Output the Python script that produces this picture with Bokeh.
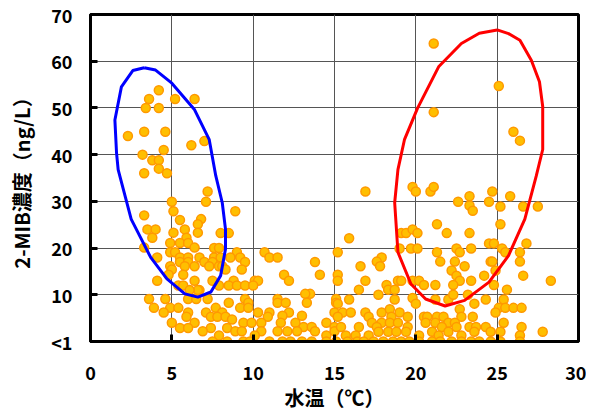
from bokeh.plotting import figure
from bokeh.models import Range1d, FixedTicker
from bokeh.embed import file_html
from bokeh.resources import INLINE

# ---- data: (water temperature [deg C], 2-MIB [ng/L]; 0 = "<1") ----
left_temp = [4.2, 3.6, 5.2, 6.4, 3.4, 4.2, 2.3, 3.3, 4.6, 6.2, 7.0, 3.2, 4.5, 3.8, 4.2, 4.2, 3.3, 4.7,
             7.2, 7.1, 5.0, 5.1, 8.9, 3.3, 6.8, 5.5, 6.6, 3.5, 4.0, 5.8, 5.1, 6.6, 8.0, 8.5, 3.8, 5.9,
             4.9, 5.5, 6.0, 3.3, 6.4, 7.6, 7.9, 4.9, 5.2, 9.0, 10.7,
             4.1, 5.5, 6.0, 6.7, 7.6, 8.0, 8.6, 9.2, 11.0, 11.5,
             5.5, 6.0, 7.0, 7.5, 9.5, 13.8,
             4.9, 5.8, 6.4, 7.3, 7.9, 8.1,
             5.0, 8.3, 9.3,
             4.8, 5.7, 11.9, 14.1, 15.2,
             6.4, 7.5, 8.8, 10.1, 10.3, 4.1, 12.2,
             5.4, 5.7, 7.9, 8.5, 9.0, 9.5, 10.0,
             6.7, 6.6, 6.1, 13.5, 13.2, 15.2]
left_conc = [53.8, 51.9, 51.9, 51.9, 50.0, 50.0, 44.0, 44.9, 44.9, 42.0, 42.9, 40.0, 41.0, 38.8, 38.8, 37.0, 36.0, 36.0,
             32.1, 29.9, 29.9, 27.9, 27.9, 27.0, 26.2, 26.0, 25.1, 24.0, 24.0, 24.0, 23.3, 23.3, 23.2, 23.2, 22.2, 22.2,
             21.1, 21.1, 21.1, 20.1, 20.1, 20.0, 20.0, 19.1, 19.1, 19.1, 19.1,
             18.0, 18.0, 18.0, 18.0, 18.0, 18.0, 18.0, 18.0, 18.0, 18.0,
             17.0, 17.0, 17.0, 17.0, 17.0, 17.0,
             16.1, 16.1, 16.1, 16.1, 16.1, 16.1,
             15.4, 15.4, 15.4,
             14.3, 14.3, 14.3, 14.3, 14.3,
             13.0, 13.0, 13.0, 13.0, 13.0, 13.0, 13.0,
             12.0, 12.0, 12.0, 12.0, 12.0, 12.0, 12.0,
             11.0, 11.0, 11.0, 10.2, 10.2, 19.1]

low_temp = [3.6, 4.6, 6.0, 6.5, 7.2, 9.5, 11.5, 15.1,
            8.5, 9.7, 11.5, 12.0, 13.3, 15.1,
            3.9, 4.9, 5.4, 7.7, 9.2, 9.7,
            4.5, 6.0, 7.1, 8.1, 10.3, 11.0, 12.2, 15.0,
            11.8, 13.0, 5.9, 7.4, 7.8, 8.3, 10.9, 8.7,
            5.0, 6.4, 9.4, 9.9, 10.5, 11.7, 12.6, 14.5,
            13.1, 13.6, 15.0, 5.5, 6.0, 7.4, 8.4,
            6.9, 8.9, 9.3, 10.5, 11.5, 12.1, 12.7, 13.8, 15.0,
            7.9, 10.1, 14.5,
            7.5, 8.4, 9.4, 9.8, 11.0, 11.8, 12.3, 13.0, 13.6, 14.5, 15.1]
low_conc = [9.1, 9.1, 9.1, 9.1, 9.1, 9.1, 9.1, 9.1,
            8.3, 8.3, 8.3, 8.3, 8.3, 8.3,
            7.2, 7.2, 7.2, 7.2, 7.2, 7.2,
            6.2, 6.2, 6.2, 6.2, 6.2, 6.2, 6.2, 6.2,
            5.5, 5.5, 5.3, 5.3, 5.3, 5.3, 5.3, 4.7,
            4.0, 4.0, 4.0, 4.0, 4.0, 4.0, 4.0, 4.0,
            3.1, 3.1, 3.1, 2.9, 2.9, 2.9, 2.9,
            2.2, 2.2, 2.2, 2.2, 2.2, 2.2, 2.2, 2.2, 2.2,
            1.3, 1.3, 1.3,
            0, 0, 0, 0, 0, 0, 0, 0, 0, 0, 0]

right_temp = [21.1, 25.1, 21.1, 26.0, 26.4,
              16.9, 19.8, 20.0, 20.9, 21.1, 23.3, 24.7, 25.8,
              22.6, 23.3, 23.5, 24.5, 25.2, 26.6, 27.5,
              21.3, 25.2, 21.9, 23.3, 19.1, 19.4, 19.8, 20.1, 15.9,
              26.8, 24.5, 24.8,
              19.0, 19.7, 20.1, 21.3, 22.5, 22.7, 23.4, 25.3, 25.5, 26.4,
              17.9, 17.6, 17.8, 16.6, 21.5, 22.4, 23.0, 24.6, 24.7, 26.4,
              22.2, 22.5, 24.2, 24.9, 26.6, 28.3,
              15.2, 16.9, 18.9, 19.1, 19.8, 20.2, 22.7, 23.4,
              20.5, 21.2, 22.3, 24.8, 18.2,
              25.6, 16.5, 18.3, 18.7,
              17.7, 18.7, 19.8, 20.0, 21.2, 22.0, 22.3, 23.2, 23.6, 24.3, 25.4,
              25.1, 25.5, 26.0, 26.5, 15.9, 15.2]
right_conc = [63.8, 54.7, 49.1, 44.9, 43.0,
              32.1, 33.1, 32.1, 32.1, 33.1, 31.1, 32.1, 31.1,
              29.9, 29.1, 28.0, 29.9, 28.9, 28.9, 28.9,
              25.1, 25.1, 23.2, 23.2, 23.2, 23.2, 24.0, 23.2, 22.1,
              21.0, 21.0, 21.0,
              19.9, 19.9, 19.9, 19.1, 19.9, 19.1, 19.9, 19.9, 19.1, 19.1,
              18.0, 17.1, 16.1, 16.1, 17.1, 17.1, 16.1, 17.1, 17.1, 17.1,
              15.2, 14.1, 14.1, 15.2, 14.1, 13.0,
              13.0, 13.0, 13.0, 13.0, 13.0, 13.0, 13.0, 13.0,
              12.1, 12.1, 12.1, 12.1, 12.1,
              11.1, 11.1, 11.1, 11.1,
              10.0, 9.0, 9.3, 8.1, 9.0, 9.0, 10.0, 10.0, 8.1, 9.0, 9.0,
              7.2, 7.2, 7.2, 7.2, 9.0, 8.1]

right_low_temp = [15.5, 16.0, 16.9, 17.9, 19.0, 24.9, 18.4, 22.7,
                  15.2, 17.1, 18.5, 19.5, 20.5, 20.7, 21.3, 21.7, 22.8, 23.5,
                  17.3, 17.9, 18.4, 18.9, 20.6, 21.2, 22.0, 22.4, 25.4,
                  15.4, 17.6, 16.5, 19.5, 21.6, 22.5, 23.3, 23.7, 24.3, 26.5,
                  17.7, 18.3, 18.8, 19.4, 21.0, 22.0, 23.6, 24.6, 25.2, 27.8,
                  15.7, 16.3, 17.1, 20.2, 21.4, 22.8, 26.4,
                  15.8, 16.4, 16.8, 17.4, 18.0, 18.6, 19.1, 19.6, 20.2, 21.0, 21.5,
                  22.2, 22.8, 23.4, 23.9, 24.6, 25.2, 26.4]
right_low_conc = [6.2, 6.2, 6.2, 6.2, 6.2, 6.2, 6.9, 6.9,
                  5.3, 5.3, 5.3, 5.3, 5.3, 5.3, 5.3, 5.3, 5.3, 5.3,
                  4.0, 4.0, 4.0, 4.0, 4.0, 4.0, 4.0, 4.0, 4.0,
                  3.1, 3.1, 3.1, 3.1, 3.1, 3.1, 3.1, 3.1, 3.1, 3.1,
                  2.1, 2.1, 2.1, 2.1, 2.1, 2.1, 2.1, 2.1, 2.1, 2.1,
                  1.3, 1.3, 1.3, 1.3, 1.3, 1.3, 1.3,
                  0, 0, 0, 0, 0, 0, 0, 0, 0, 0, 0,
                  0, 0, 0, 0, 0, 0, 0]

# hand-drawn loops (data coordinates)
blue_loop_x = [3.3, 4.0, 5.0, 6.4, 7.3, 7.7, 8.1, 8.3, 8.3, 8.0, 7.4, 6.6, 5.8, 4.7, 3.7,
               2.5, 1.7, 1.6, 1.5, 1.9, 2.6, 3.3]
blue_loop_y = [58.6, 58.1, 55.3, 49.6, 43.2, 35.5, 29.7, 24.0, 19.8, 14.1, 10.6, 9.5, 10.2, 13.4, 18.0,
               26.2, 36.8, 40.4, 47.4, 54.5, 58.0, 58.6]
red_loop_x = [25.0, 25.7, 26.4, 27.1, 27.6, 27.8, 27.8, 27.4, 26.7, 25.7, 24.5, 23.0, 21.8, 20.6, 19.7,
              18.9, 18.7, 18.9, 19.3, 20.1, 21.4, 22.8, 23.9, 25.0]
red_loop_y = [66.7, 65.9, 64.5, 60.2, 55.6, 50.3, 41.1, 35.4, 26.2, 18.4, 12.7, 8.8, 7.6, 9.1, 12.3,
              19.1, 29.7, 36.8, 43.2, 49.9, 58.8, 63.8, 66.0, 66.7]

x_ticks = [0, 5, 10, 15, 20, 25, 30]
y_ticks = [0, 10, 20, 30, 40, 50, 60, 70]
y_tick_labels = {0: "<1", 10: "10", 20: "20", 30: "30", 40: "40", 50: "50", 60: "60", 70: "70"}

FONT = "Noto Sans CJK JP"

p = figure(frame_width=488, frame_height=327, output_backend="svg", toolbar_location=None,
           x_range=Range1d(0, 30), y_range=Range1d(0, 70),
           min_border_left=90, min_border_right=8, min_border_top=14, min_border_bottom=68)
p.background_fill_color = "white"
p.border_fill_color = "white"
p.outline_line_color = "black"
p.outline_line_width = 3

p.xaxis.ticker = FixedTicker(ticks=x_ticks)
p.yaxis.ticker = FixedTicker(ticks=y_ticks)
p.yaxis.major_label_overrides = y_tick_labels

for ax in (p.xaxis, p.yaxis):
    ax.axis_line_width = 3
    ax.axis_line_color = "black"
    ax.major_tick_in = 7
    ax.major_tick_out = 0
    ax.major_tick_line_width = 3
    ax.minor_tick_line_color = None
    ax.major_label_text_font = FONT
    ax.major_label_text_font_style = "bold"
    ax.major_label_text_font_size = "18px"
    ax.major_label_text_color = "black"
    ax.axis_label_text_font = FONT
    ax.axis_label_text_font_style = "bold"
    ax.axis_label_text_font_size = "20px"
    ax.axis_label_text_color = "black"

p.xaxis.axis_label = "水温（℃）"
p.yaxis.axis_label = "2-MIB濃度（ng/L）"
p.xaxis.major_label_standoff = 24
p.yaxis.major_label_standoff = 18
p.xaxis.axis_label_standoff = 0
p.yaxis.axis_label_standoff = 12

p.xgrid.grid_line_color = "#555555"
p.ygrid.grid_line_color = "#555555"
p.xgrid.grid_line_width = 1
p.ygrid.grid_line_width = 1

all_temp = left_temp + low_temp + right_temp + right_low_temp
all_conc = left_conc + low_conc + right_conc + right_low_conc
p.scatter(all_temp, all_conc, size=9, fill_color="#FFBF00", line_color="#FF9900", line_width=1.5)

p.line(blue_loop_x, blue_loop_y, line_color="#0000FF", line_width=3)
p.line(red_loop_x, red_loop_y, line_color="#FF0000", line_width=3)

open("out.html", "w").write(file_html(p, INLINE))
